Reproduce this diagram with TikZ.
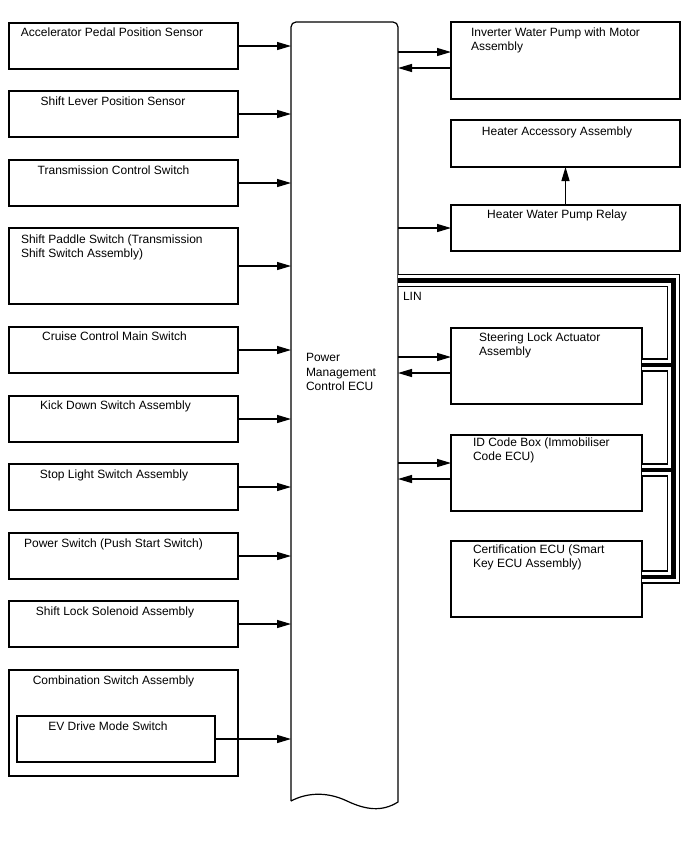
\documentclass[tikz,border=0pt]{standalone}
\usepackage{fontspec}
\setmainfont{Liberation Sans}
\usetikzlibrary{arrows.meta,calc}
\begin{document}
\begin{tikzpicture}[x=1pt,y=-1pt,
  box/.style={draw,line width=1.2pt,inner sep=0,outer sep=0,anchor=north west},
  txt/.style={inner sep=0,outer sep=0,font=\fontsize{12}{14.5}\selectfont,align=left},
  arr/.style={line width=1.2pt,-{Triangle[length=14pt,width=8pt]}}]
\useasboundingbox (0,0) rectangle (688,852);
% ECU
\node[inner sep=0,outer sep=0,anchor=north west,minimum width=107,minimum height=780] (ecu) at (291,22) {};
\draw[line width=1.2pt] (291,801) [rounded corners=5] -- (291,22) -- (398,22) [sharp corners] -- (398,802)
  .. controls (382,812) and (366,810) .. (347,801) .. controls (326,791) and (306,793) .. (291,801);
\node[txt,anchor=north west] (ecut) at (306,353.5) {Power\\Management\\Control ECU};
% left boxes
\node[box,minimum width=229,minimum height=46] (b1) at (9,23) {};
\node[box,minimum width=229,minimum height=46] (b2) at (9,91) {};
\node[box,minimum width=229,minimum height=46] (b3) at (9,160) {};
\node[box,minimum width=229,minimum height=76] (b4) at (9,228) {};
\node[box,minimum width=229,minimum height=46] (b5) at (9,327) {};
\node[box,minimum width=229,minimum height=46] (b6) at (9,396) {};
\node[box,minimum width=229,minimum height=46] (b7) at (9,464) {};
\node[box,minimum width=229,minimum height=46] (b8) at (9,533) {};
\node[box,minimum width=229,minimum height=46] (b9) at (9,601) {};
\node[box,minimum width=229,minimum height=106] (b10) at (9,670) {};
\node[box,minimum width=198,minimum height=46] (ev) at (17,716) {};
\node[txt,anchor=north] (t1) at (112,27.5) {Accelerator Pedal Position Sensor};
\node[txt,anchor=north] (t2) at (113,96.5) {Shift Lever Position Sensor};
\node[txt,anchor=north] (t3) at (113.5,165.5) {Transmission Control Switch};
\node[txt,anchor=north west] (t4) at (21,234.5) {Shift Paddle Switch (Transmission\\Shift Switch Assembly)};
\node[txt,anchor=north] (t5) at (114.5,331.5) {Cruise Control Main Switch};
\node[txt,anchor=north] (t6) at (115.5,400.5) {Kick Down Switch Assembly};
\node[txt,anchor=north] (t7) at (114,469.5) {Stop Light Switch Assembly};
\node[txt,anchor=north] (t8) at (113.5,538.5) {Power Switch (Push Start Switch)};
\node[txt,anchor=north] (t9) at (115,606.5) {Shift Lock Solenoid Assembly};
\node[txt,anchor=north] (t10) at (113.5,675.5) {Combination Switch Assembly};
\node[txt,anchor=north] (tev) at (108,721.5) {EV Drive Mode Switch};
\foreach \b in {b1,b2,b3,b4,b5,b6,b7,b8,b9,ev}
  \draw[arr] (\b.east) -- (\b.east -| ecu.west);
% right boxes
\node[box,minimum width=229,minimum height=77] (inv) at (451,22) {};
\node[box,minimum width=229,minimum height=47] (acc) at (451,120) {};
\node[box,minimum width=229,minimum height=46] (rel) at (451,205) {};
\node[box,minimum width=191,minimum height=76] (steer) at (451,328) {};
\node[box,minimum width=191,minimum height=76] (idb) at (451,435) {};
\node[box,minimum width=191,minimum height=76] (cert) at (451,541) {};
\node[txt,anchor=north west] (tinv) at (471,27.5) {Inverter Water Pump with Motor\\Assembly};
\node[txt,anchor=north] (tacc) at (557,126.5) {Heater Accessory Assembly};
\node[txt,anchor=north] (trel) at (557,209.5) {Heater Water Pump Relay};
\node[txt,anchor=north west] (tst) at (479,332.5) {Steering Lock Actuator\\Assembly};
\node[txt,anchor=north west] (tid) at (473,437.5) {ID Code Box (Immobiliser\\Code ECU)};
\node[txt,anchor=north west] (tce) at (473,544.5) {Certification ECU (Smart\\Key ECU Assembly)};
\node[txt,anchor=north west] (tlin) at (403,292.5) {LIN};
% right connectors
\coordinate (inva) at ($(inv.west)+(0,-8.5)$);
\coordinate (invb) at ($(inv.west)+(0,7.5)$);
\draw[arr] (ecu.east |- inva) -- (inva);
\draw[arr] (invb) -- (ecu.east |- invb);
\draw[arr] (ecu.east |- rel.west) -- (rel.west);
\draw[arr] (rel.north) -- (acc.south);
\coordinate (sta) at ($(steer.west)+(0,-9)$);
\coordinate (stb) at ($(steer.west)+(0,7)$);
\draw[arr] (ecu.east |- sta) -- (sta);
\draw[arr] (stb) -- (ecu.east |- stb);
\coordinate (ida) at ($(idb.west)+(0,-10)$);
\coordinate (idbb) at ($(idb.west)+(0,6)$);
\draw[arr] (ecu.east |- ida) -- (ida);
\draw[arr] (idbb) -- (ecu.east |- idbb);
% LIN bus
\coordinate (bus0) at (0,280.5);
\coordinate (busc) at (673.5,280.5);
\coordinate (busd) at (673.5,577);
\coordinate (buss) at (673.5,365);
\coordinate (busi) at (673.5,470);
\foreach \w/\c in {13.4/black,10.6/white,4.2/black}
  \draw[line width=\w pt,draw=\c,line join=miter] (ecu.east |- bus0) -- (busc) -- (busd) -- (cert.east |- busd)
    (buss) -- (steer.east |- buss) (busi) -- (idb.east |- busi);
\end{tikzpicture}
\end{document}
